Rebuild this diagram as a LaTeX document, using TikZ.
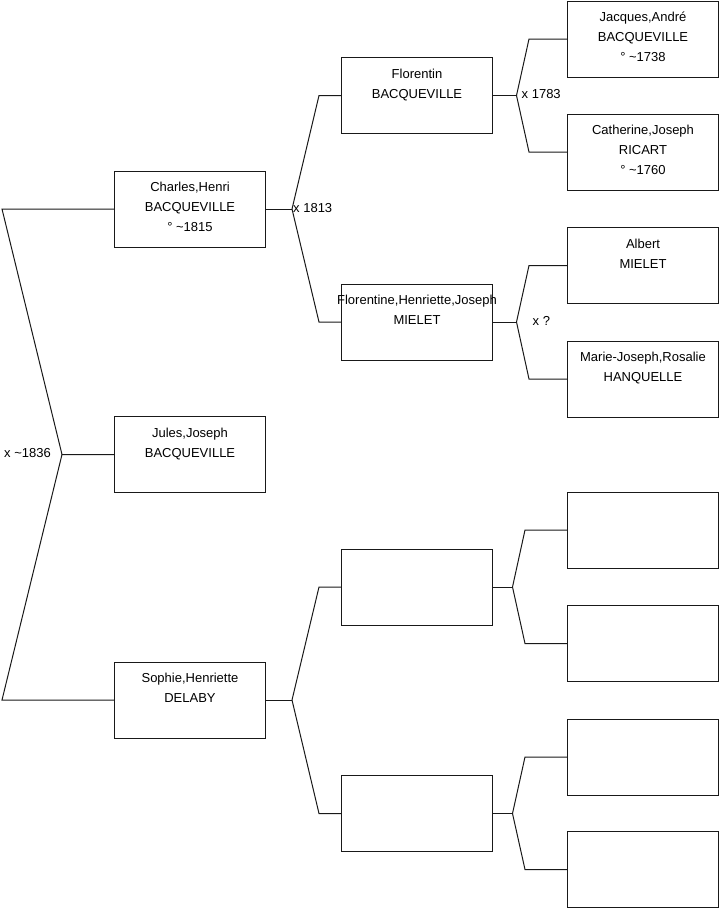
\documentclass[tikz,border=0pt]{standalone}
\usepackage{fontspec}
\setmainfont{Liberation Sans}
\usepackage{tikz}
\usetikzlibrary{positioning, calc}

% fiche d'une personne : texte en haut de la case
\newcommand{\fiche}[1]{\parbox[c][76pt][t]{151pt}{\centering\rule{0pt}{20.5pt}#1}}

\begin{document}
\begin{tikzpicture}[x=1pt, y=-1pt,
  personne/.style={draw=black!90, line width=1pt, inner sep=0pt, anchor=north west, font=\fontsize{13}{20}\selectfont},
  lien/.style={draw=black!90, line width=1pt},
  mariage/.style={font=\fontsize{13}{15}\selectfont, inner sep=1pt}]
\useasboundingbox (0,0) rectangle (719,908);

% --- GENERATION 1 ---
\node[personne] (charles) at (114,170.5) {\fiche{Charles,Henri\\BACQUEVILLE\\° \textasciitilde1815}};
\node[personne] (jules) at (114,416) {\fiche{Jules,Joseph\\BACQUEVILLE}};
\node[personne] (sophie) at (114,661.5) {\fiche{Sophie,Henriette\\DELABY}};

% --- GENERATION 2 ---
\node[personne] (florentin) at (341,57) {\fiche{Florentin\\BACQUEVILLE}};
\node[personne] (florentine) at (341,283.5) {\fiche{\makebox[151pt]{Florentine,Henriette,Joseph}\\MIELET}};
\node[personne] (sophiepere) at (341,548.5) {\fiche{}};
\node[personne] (sophiemere) at (341,775) {\fiche{}};

% --- GENERATION 3 ---
\node[personne] (jacques) at (567,0.5) {\fiche{Jacques,André\\BACQUEVILLE\\° \textasciitilde1738}};
\node[personne] (catherine) at (567,113.5) {\fiche{Catherine,Joseph\\RICART\\° \textasciitilde1760}};
\node[personne] (albert) at (567,227) {\fiche{Albert\\MIELET}};
\node[personne] (mariejoseph) at (567,340.5) {\fiche{Marie-Joseph,Rosalie\\HANQUELLE}};
\node[personne] (spp) at (567,491.5) {\fiche{}};
\node[personne] (spm) at (567,605) {\fiche{}};
\node[personne] (smp) at (567,718.5) {\fiche{}};
\node[personne] (smm) at (567,831) {\fiche{}};

% --- POINTS DE MARIAGE ---
\coordinate (racine) at ($(jules.west)+(-52,0)$);
\coordinate (x1813) at ($(charles.east)+(26,0)$);
\coordinate (xsophie) at ($(sophie.east)+(26,0)$);
\coordinate (x1783) at ($(florentin.east)+(23.5,0)$);
\coordinate (xmielet) at ($(florentine.east)+(23.5,0)$);
\coordinate (xsp) at ($(sophiepere.east)+(19.5,0)$);
\coordinate (xsm) at ($(sophiemere.east)+(19.5,0)$);

% --- LIENS ---
\draw[lien] (charles.west) -- ++(-112,0) -- (racine) -- (jules.west);
\draw[lien] (sophie.west) -- ++(-112,0) -- (racine);

\draw[lien] (charles.east) -- (x1813);
\draw[lien] (florentin.west) -- ++(-22,0) -- (x1813);
\draw[lien] (florentine.west) -- ++(-22,0) -- (x1813);

\draw[lien] (sophie.east) -- (xsophie);
\draw[lien] (sophiepere.west) -- ++(-22,0) -- (xsophie);
\draw[lien] (sophiemere.west) -- ++(-22,0) -- (xsophie);

\draw[lien] (florentin.east) -- (x1783);
\draw[lien] (jacques.west) -- ++(-38,0) -- (x1783);
\draw[lien] (catherine.west) -- ++(-38,0) -- (x1783);

\draw[lien] (florentine.east) -- (xmielet);
\draw[lien] (albert.west) -- ++(-38,0) -- (xmielet);
\draw[lien] (mariejoseph.west) -- ++(-38,0) -- (xmielet);

\draw[lien] (sophiepere.east) -- (xsp);
\draw[lien] (spp.west) -- ++(-42,0) -- (xsp);
\draw[lien] (spm.west) -- ++(-42,0) -- (xsp);

\draw[lien] (sophiemere.east) -- (xsm);
\draw[lien] (smp.west) -- ++(-42,0) -- (xsm);
\draw[lien] (smm.west) -- ++(-42,0) -- (xsm);

% --- DATES DE MARIAGE ---
\node[mariage, anchor=east] (lx1836) at ($(racine)+(-10,-1)$) {x \textasciitilde1836};
\node[mariage, anchor=west] (lx1813) at ($(x1813)+(0,-1)$) {x 1813};
\node[mariage, anchor=west] (lx1783) at ($(x1783)+(4,-1)$) {x 1783};
\node[mariage, anchor=west] (lxq) at ($(xmielet)+(15,-1)$) {x ?};
\end{tikzpicture}
\end{document}
